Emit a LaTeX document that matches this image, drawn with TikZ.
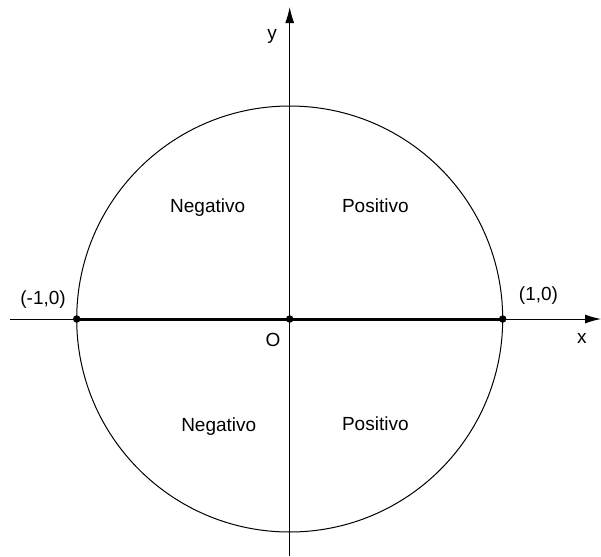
\documentclass[tikz,border=0pt]{standalone}
\usepackage{fontspec}
\setmainfont{Liberation Sans}
\usetikzlibrary{arrows.meta}

\tikzset{
  eje/.style={line width=1pt,-{Latex[length=16pt,width=9pt]}},
  punto/.style={circle,fill,inner sep=0pt,minimum size=7.5pt},
  rotulo/.style={anchor=base,font=\fontsize{19}{23}\selectfont}
}

\begin{document}
\begin{tikzpicture}[x=213pt,y=213pt]
\useasboundingbox (-1.3601,-1.1127) rectangle (1.4615,1.4977);

\coordinate (xi) at (-1.313,0);
\coordinate (xf) at (1.4615,0);
\coordinate (yi) at (0,-1.1127);
\coordinate (yf) at (0,1.4648);

\draw[line width=1pt] (0,0) circle (1);
\draw[eje] (xi) -- (xf);
\draw[eje] (yi) -- (yf);

\node[punto] (A) at (-1,0) {};
\node[punto] (O) at (0,0) {};
\node[punto] (B) at (1,0) {};
\draw[line width=3pt] (A.center) -- (B.center);

\node[rotulo] (lA) at (-1.158,0.070) {(-1,0)};
\node[rotulo] (lB) at (1.168,0.085) {(1,0)};
\node[rotulo] (lO) at (-0.078,-0.131) {O};
\node[rotulo] (lx) at (1.372,-0.113) {x};
\node[rotulo] (ly) at (-0.083,1.31) {y};

\node[rotulo] (n1) at (-0.385,0.502) {Negativo};
\node[rotulo] (p1) at (0.402,0.502) {Positivo};
\node[rotulo] (n2) at (-0.333,-0.527) {Negativo};
\node[rotulo] (p2) at (0.402,-0.522) {Positivo};
\end{tikzpicture}
\end{document}
